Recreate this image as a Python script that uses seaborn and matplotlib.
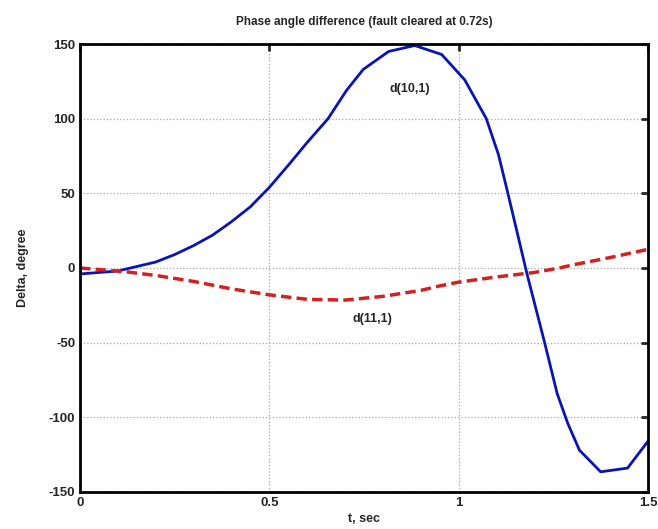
import numpy as np
import pandas as pd
import matplotlib
matplotlib.use("Agg")
import matplotlib.pyplot as plt
import seaborn as sns

sns.set_style("white")
plt.rcParams['font.family'] = ['Liberation Sans', 'DejaVu Sans']
plt.rcParams['font.weight'] = 'bold'
plt.rcParams['axes.unicode_minus'] = False

# d(10,1) - blue solid
t_10 = [0.0, 0.1, 0.2, 0.25, 0.3, 0.35, 0.4, 0.45, 0.5, 0.554, 0.598, 0.655, 0.704,
        0.748, 0.815, 0.884, 0.955, 1.016, 1.073, 1.105, 1.13, 1.18,
        1.227, 1.26, 1.288, 1.319, 1.375, 1.446, 1.5]
d_10 = [-4, -2, 4, 9, 15, 22, 31, 41, 54, 70, 83.5, 100, 119,
        133, 145, 149, 143, 126, 100, 76, 50, -3.5,
        -50, -84, -104, -122, -136.5, -134, -116]

# d(11,1) - red dashed
t_11 = [0.0, 0.12, 0.2, 0.3, 0.4, 0.5, 0.6, 0.7, 0.8, 0.9, 0.95, 1.0, 1.1, 1.2, 1.266, 1.3, 1.4, 1.5]
d_11 = [0, -2.5, -5, -9, -14, -18, -21, -21.5, -19, -15, -12, -9.5, -6, -3, 0, 2, 7, 12.5]

fig = plt.figure(figsize=(6.58, 5.29), dpi=100)
ax = fig.add_axes([0.1216, 0.070, 0.8632, 0.8468])

sns.lineplot(x=t_10, y=d_10, ax=ax, color='#0a14b4', linewidth=2)
sns.lineplot(x=t_11, y=d_11, ax=ax, color='#d42020', linewidth=2.5, linestyle=(0, (3, 1.5)))

ax.set_xlim(0, 1.5)
ax.set_ylim(-150, 150)
ax.set_xticks([0, 0.5, 1, 1.5])
ax.set_xticklabels(['0', '0.5', '1', '1.5'])
ax.set_yticks([-150, -100, -50, 0, 50, 100, 150])
ax.grid(True, color='#a8a8a8', linestyle=':', linewidth=0.9)
for s in ax.spines.values():
    s.set_color('black')
    s.set_linewidth(2)
ax.tick_params(direction='in', length=5, width=2, labelsize=9.5, top=True, right=True,
               labeltop=False, labelright=False)
for lab in ax.get_xticklabels() + ax.get_yticklabels():
    lab.set_fontweight('bold')

ax.set_title('Phase angle difference (fault cleared at 0.72s)', fontsize=8.5,
             fontweight='bold', pad=14)
ax.set_xlabel('t, sec', fontsize=9, fontweight='bold', labelpad=3)
ax.set_ylabel('Delta, degree', fontsize=9, fontweight='bold', labelpad=14)

ax.text(0.87, 120, 'd(10,1)', fontsize=9, fontweight='bold', ha='center', va='center')
ax.text(0.773, -34, 'd(11,1)', fontsize=9, fontweight='bold', ha='center', va='center')

fig.savefig('out.png', dpi=100)
